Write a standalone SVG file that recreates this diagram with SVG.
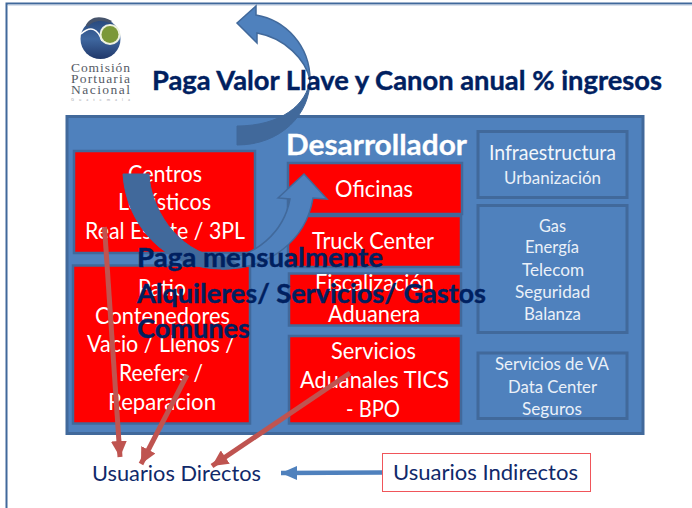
<svg xmlns="http://www.w3.org/2000/svg" width="692" height="508" viewBox="0 0 692 508">
<style>
text{font-family:Lato,"Open Sans","Liberation Sans",sans-serif}
.r{fill:#f00;stroke:#41699b;stroke-width:2.500}
.b{fill:#4f81bd;stroke:#41699b;stroke-width:3}
.w22{fill:#fff;font-size:23px}
.w20{fill:#f2f6fb;font-size:21px}
.w17{fill:#eaf0f8;font-size:17.500px}
.h{fill:#002060;stroke:#002060;stroke-width:.4;font-weight:700;font-size:26px}
.u{fill:#10296a;font-size:22px}
.lg{fill:#565b66;font-family:"Liberation Serif",serif;font-size:13.500px}
.dk{fill:#41699b;stroke:#41699b;stroke-width:1}
.lt{fill:#4f81bd;stroke:#41699b;stroke-width:1.500}
.ln{stroke:#bf5450;stroke-width:5;fill:none;marker-end:url(#ra)}
</style>
<defs>
<marker id="ra" markerUnits="userSpaceOnUse" markerWidth="18" markerHeight="16" refX="16" refY="8" orient="auto"><path d="M0,0 L16,8 L0,16 Z" fill="#bf5450"/></marker>
<marker id="ba" markerUnits="userSpaceOnUse" markerWidth="18" markerHeight="16" refX="16" refY="7" orient="auto"><path d="M0,0 L16,7 L0,14 Z" fill="#4f81bd"/></marker>
<linearGradient id="lgb" x1="0" y1="0" x2="0" y2="1"><stop offset="0" stop-color="#27487c"/><stop offset=".5" stop-color="#3f679f"/><stop offset="1" stop-color="#20386a"/></linearGradient>
</defs>
<rect width="692" height="508" fill="#fff"/>
<path d="M6.500,520 V3.500 H700" fill="none" stroke="#41699b" stroke-width="2"/>
<path d="M8,5 H692" fill="none" stroke="#b5c4da" stroke-width="1"/>

<g id="logo">
<circle cx="100.500" cy="39" r="20" fill="url(#lgb)"/>
<path d="M81,34 C91,25 98,29 102,41" fill="none" stroke="#fff" stroke-width="1.500"/>
<circle cx="110" cy="34.500" r="10.500" fill="#eef2e0"/>
<circle cx="110" cy="34.500" r="8.500" fill="#7b9838"/>
<path d="M86,25 C90,18 98,14 112,21 L110,23 C100,19 92,21 88,27 Z" fill="#46546c"/>
<text class="lg" x="71" y="72" textLength="59" lengthAdjust="spacing">Comisión</text>
<text class="lg" x="71" y="83" textLength="59" lengthAdjust="spacing">Portuaria</text>
<text class="lg" x="71" y="94" textLength="59" lengthAdjust="spacing">Nacional</text>
<text x="71" y="101" font-size="4" fill="#a5a8ad" textLength="59">Guatemala</text>
</g>

<g id="desarrollador">
<rect x="67" y="116.500" width="576" height="317" class="b"/>
</g>

<g id="centros"><rect x="74" y="151" width="181" height="102" class="r"/>
<text class="w22" x="128" y="182" textLength="74" lengthAdjust="spacingAndGlyphs">Centros</text>
<text class="w22" x="118" y="210" textLength="93" lengthAdjust="spacingAndGlyphs">Logísticos</text>
<text class="w22" x="85" y="239" textLength="160" lengthAdjust="spacingAndGlyphs">Real Estate / 3PL</text></g>
<g id="patio"><rect x="73" y="265.500" width="177" height="158" class="r"/>
<text class="w22" x="138" y="296" textLength="48" lengthAdjust="spacingAndGlyphs">Patio</text>
<text class="w22" x="95" y="324" textLength="135" lengthAdjust="spacingAndGlyphs">Contenedores</text>
<text class="w22" x="87" y="352" textLength="148" lengthAdjust="spacingAndGlyphs">Vacio / Llenos /</text>
<text class="w22" x="119" y="381" textLength="84" lengthAdjust="spacingAndGlyphs">Reefers /</text>
<text class="w22" x="108" y="410" textLength="108" lengthAdjust="spacingAndGlyphs">Reparacion</text></g>
<g id="oficinas"><rect x="288" y="163" width="174" height="51" class="r"/>
<text class="w22" x="335" y="197" textLength="78" lengthAdjust="spacingAndGlyphs">Oficinas</text></g>
<g id="truck"><rect x="288" y="216" width="173" height="51" class="r"/>
<text class="w22" x="312" y="249" textLength="122" lengthAdjust="spacingAndGlyphs">Truck Center</text></g>
<g id="fiscalizacion"><rect x="289" y="273.500" width="172" height="52" class="r"/>
<text class="w22" x="315" y="291" textLength="119" lengthAdjust="spacingAndGlyphs">Fiscalización</text>
<text class="w22" x="328" y="322" textLength="92" lengthAdjust="spacingAndGlyphs">Aduanera</text></g>
<g id="servicios"><rect x="289" y="336" width="172" height="87.500" class="r"/>
<text class="w22" x="331" y="359" textLength="85" lengthAdjust="spacingAndGlyphs">Servicios</text>
<text class="w22" x="300" y="388" textLength="149" lengthAdjust="spacingAndGlyphs">Aduanales TICS</text>
<text class="w22" x="346" y="417" textLength="54" lengthAdjust="spacingAndGlyphs">- BPO</text></g>
<g id="infra"><rect x="478" y="131.500" width="149" height="66" class="b"/>
<text class="w20" x="489" y="160" textLength="127" lengthAdjust="spacingAndGlyphs">Infraestructura</text>
<text class="w17" x="504" y="184" textLength="97" lengthAdjust="spacingAndGlyphs">Urbanización</text></g>
<g id="gas"><rect x="478" y="205.500" width="149" height="127" class="b"/>
<text class="w17" x="539" y="232" textLength="27" lengthAdjust="spacingAndGlyphs">Gas</text>
<text class="w17" x="525" y="253" textLength="54" lengthAdjust="spacingAndGlyphs">Energía</text>
<text class="w17" x="522" y="276" textLength="62" lengthAdjust="spacingAndGlyphs">Telecom</text>
<text class="w17" x="515" y="298" textLength="75" lengthAdjust="spacingAndGlyphs">Seguridad</text>
<text class="w17" x="524" y="320" textLength="57" lengthAdjust="spacingAndGlyphs">Balanza</text></g>
<g id="va"><rect x="478" y="353" width="149" height="65.500" class="b"/>
<text class="w17" x="495" y="370" textLength="114" lengthAdjust="spacingAndGlyphs">Servicios de VA</text>
<text class="w17" x="508" y="393" textLength="89" lengthAdjust="spacingAndGlyphs">Data Center</text>
<text class="w17" x="522" y="415" textLength="60" lengthAdjust="spacingAndGlyphs">Seguros</text></g>

<g id="flechas-curvas">
<path class="lt" d="M237,23 L256,6 L256,15 C285,20 310,45 310,80 C306,60 285,38 257,33 L257,43 Z"/>
<path class="dk" d="M237,145 C280,145 311,115 310,78 C308,105 280,126 237,126 Z"/>
<path class="lt" d="M278,198 L304,174 L327,199 L313,198 C306,240 270,269 222,269 L222,258 C255,258 284,232 290,199 Z"/>
<path class="dk" d="M123,174 L149,174 C150,205 175,252 222,258 C228,259 236,262 240,266 C234,269 228,269 222,269 C165,269 126,225 123,174 Z"/>
</g>

<g id="titulos">
<text class="h" x="152" y="90" font-size="27.500px" style="font-size:27.500px" textLength="510" lengthAdjust="spacingAndGlyphs">Paga Valor Llave y Canon anual % ingresos</text>
<text x="286" y="155" fill="#fff" stroke="#fff" stroke-width=".3" font-weight="700" font-size="29px" textLength="181" lengthAdjust="spacingAndGlyphs">Desarrollador</text>
<text class="h" x="137" y="267" textLength="246" lengthAdjust="spacingAndGlyphs">Paga mensualmente</text>
<text class="h" x="137" y="303" textLength="349" lengthAdjust="spacingAndGlyphs">Alquileres/ Servicios/ Gastos</text>
<text class="h" x="137" y="338" textLength="113" lengthAdjust="spacingAndGlyphs">Comunes</text>
</g>

<g id="conectores">
<path class="ln" d="M104.500,227 L120,457"/>
<path class="ln" d="M187,375 L141,464"/>
<path class="ln" d="M350,373 L212,466"/>
<path d="M383,472.500 L281,473" fill="none" stroke="#4f81bd" stroke-width="4.500" marker-end="url(#ba)"/>
</g>

<g id="usuarios-directos"><text class="u" x="92" y="481" textLength="169" lengthAdjust="spacingAndGlyphs">Usuarios Directos</text></g>
<g id="usuarios-indirectos"><rect x="382.500" y="453.500" width="208" height="38" fill="#fff" stroke="#f0555a" stroke-width="1"/>
<text class="u" x="393" y="480" textLength="185" lengthAdjust="spacingAndGlyphs">Usuarios Indirectos</text></g>
</svg>
